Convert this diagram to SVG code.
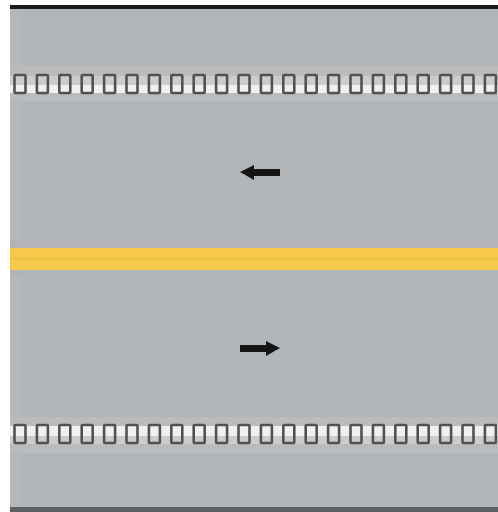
<svg xmlns="http://www.w3.org/2000/svg" xmlns:xlink="http://www.w3.org/1999/xlink" width="498" height="512" viewBox="0 0 498 512">
<defs>
<style>
.mk{fill:none;stroke:#505254;stroke-width:2.6}
.arrow{fill:#151515}
</style>
<g id="rpm"><rect class="mk" x="0" y="0" width="11" height="18" rx="1"/></g>
</defs>
<rect x="0" y="0" width="498" height="512" fill="#ffffff"/>
<rect x="10" y="6" width="488" height="503" fill="#b1b5b7"/>
<rect x="10" y="6" width="12" height="503" fill="#b4b7bb"/>
<rect x="10" y="5" width="488" height="4" fill="#1a1a1a"/>
<rect x="10" y="507" width="488" height="5" fill="#5e6062"/>
<!-- lighter bands around marker rows -->
<rect x="10" y="65" width="488" height="36" fill="#b9bbbc"/>
<rect x="10" y="417" width="488" height="36" fill="#b9bbbc"/>
<!-- top marker row -->
<g id="top-markers">
<rect x="10" y="76" width="488" height="9" fill="#cacccd"/>
<rect x="10" y="85" width="488" height="8" fill="#f0f0f0"/>
<g transform="translate(0,75)">
<use xlink:href="#rpm" x="14.5"/><use xlink:href="#rpm" x="36.9"/><use xlink:href="#rpm" x="59.3"/><use xlink:href="#rpm" x="81.7"/><use xlink:href="#rpm" x="104.1"/><use xlink:href="#rpm" x="126.5"/><use xlink:href="#rpm" x="148.9"/><use xlink:href="#rpm" x="171.3"/><use xlink:href="#rpm" x="193.7"/><use xlink:href="#rpm" x="216.1"/><use xlink:href="#rpm" x="238.5"/><use xlink:href="#rpm" x="260.9"/><use xlink:href="#rpm" x="283.3"/><use xlink:href="#rpm" x="305.7"/><use xlink:href="#rpm" x="328.1"/><use xlink:href="#rpm" x="350.5"/><use xlink:href="#rpm" x="372.9"/><use xlink:href="#rpm" x="395.3"/><use xlink:href="#rpm" x="417.7"/><use xlink:href="#rpm" x="440.1"/><use xlink:href="#rpm" x="462.5"/><use xlink:href="#rpm" x="484.9"/>
</g>
</g>
<!-- bottom marker row -->
<g id="bottom-markers">
<rect x="10" y="426" width="488" height="10" fill="#f0f0f0"/>
<rect x="10" y="436" width="488" height="8" fill="#cacccd"/>
<g transform="translate(0,425)">
<use xlink:href="#rpm" x="14.5"/><use xlink:href="#rpm" x="36.9"/><use xlink:href="#rpm" x="59.3"/><use xlink:href="#rpm" x="81.7"/><use xlink:href="#rpm" x="104.1"/><use xlink:href="#rpm" x="126.5"/><use xlink:href="#rpm" x="148.9"/><use xlink:href="#rpm" x="171.3"/><use xlink:href="#rpm" x="193.7"/><use xlink:href="#rpm" x="216.1"/><use xlink:href="#rpm" x="238.5"/><use xlink:href="#rpm" x="260.9"/><use xlink:href="#rpm" x="283.3"/><use xlink:href="#rpm" x="305.7"/><use xlink:href="#rpm" x="328.1"/><use xlink:href="#rpm" x="350.5"/><use xlink:href="#rpm" x="372.9"/><use xlink:href="#rpm" x="395.3"/><use xlink:href="#rpm" x="417.7"/><use xlink:href="#rpm" x="440.1"/><use xlink:href="#rpm" x="462.5"/><use xlink:href="#rpm" x="484.9"/>
</g>
</g>
<!-- yellow center line -->
<g id="centerline">
<rect x="10" y="241" width="488" height="36" fill="#b3b3ba"/>
<rect x="10" y="248" width="488" height="22" fill="#f6c94a"/>
<rect x="10" y="257" width="488" height="3" fill="#eec247"/>
</g>
<!-- arrows -->
<g id="arrow-left">
<path class="arrow" d="M240,172 L254,165 L254,169 L280,169 L280,176 L254,176 L254,180 Z"/>
</g>
<g id="arrow-right">
<path class="arrow" d="M280,348 L266,341 L266,345 L240,345 L240,352 L266,352 L266,356 Z"/>
</g>
</svg>
